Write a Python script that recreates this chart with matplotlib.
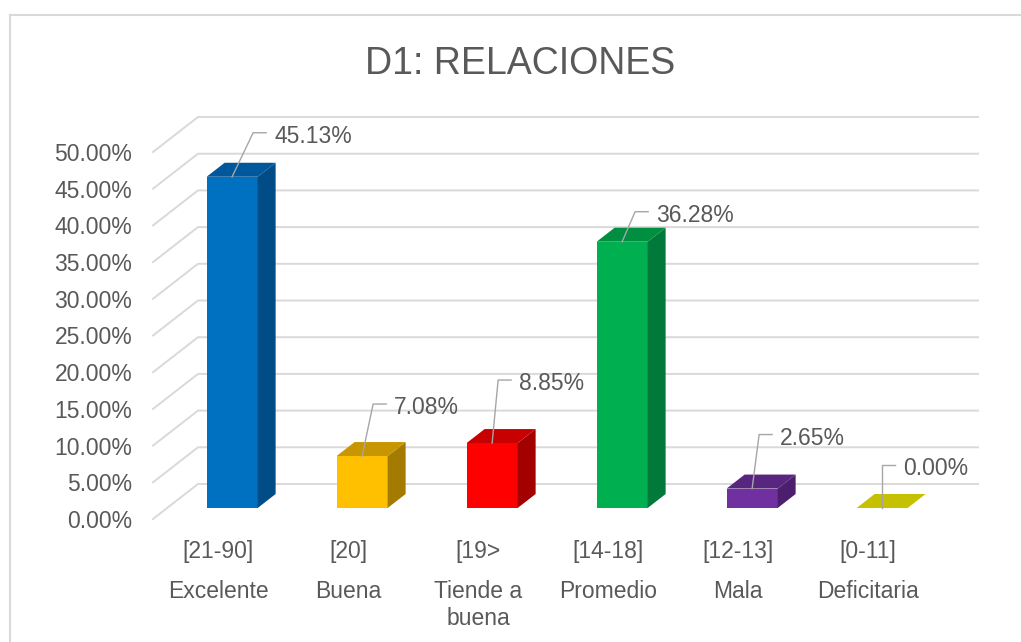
import matplotlib.pyplot as plt
import matplotlib.patches as patches
from matplotlib.lines import Line2D

plt.rcParams["font.family"] = ["Liberation Sans", "DejaVu Sans"]

# data
title = "D1: RELACIONES"
ranges = ["[21-90]", "[20]", "[19>", "[14-18]", "[12-13]", "[0-11]"]
levels = ["Excelente", "Buena", "Tiende a\nbuena", "Promedio", "Mala", "Deficitaria"]
percents = [45.13, 7.08, 8.85, 36.28, 2.65, 0.00]
y_ticks = [0, 5, 10, 15, 20, 25, 30, 35, 40, 45, 50]

# styles
front_colors = ["#0070C0", "#FFC000", "#FF0000", "#00B050", "#7030A0", "#C5C100"]
side_colors = ["#004C86", "#A37B00", "#A30000", "#00793A", "#4B1F6E", "#8A8700"]
top_colors = ["#00589C", "#C89600", "#C80000", "#008E41", "#58267F", "#C5C100"]
# leader elbow (right, up) in pixels from the bar's top edge
label_offsets = [(21, 44), (11, 52), (6, 63), (13, 30), (7, 54), (0, 43)]

text_color = "#595959"
grid_color = "#D9D9D9"

W, H = 1021, 642
fig = plt.figure(figsize=(W / 100, H / 100), dpi=100)
ax = fig.add_axes([153 / W, 123 / H, 780 / W, 367 / H])
ax.set_xlim(-0.5, 5.5)
ax.set_ylim(0, 50)
for s in ax.spines.values():
    s.set_visible(False)
ax.set_xticks([])
ax.set_yticks(y_ticks)
ax.set_yticklabels([f"{v:.2f}%" for v in y_ticks])
ax.tick_params(axis="y", length=0, pad=15, labelsize=16.5, labelcolor=text_color)

# fake 3D depth (in data units)
px_per_pct = 7.34
wall_dx = 45 / 130
wall_dy = 35 / px_per_pct
f0, f1 = 0.314, 0.714
bar_w = 51 / 130

# back wall gridlines
for v in y_ticks:
    ax.plot([-0.5, -0.5 + wall_dx, 5.5 + wall_dx], [v, v + wall_dy, v + wall_dy],
            color=grid_color, lw=1.4, clip_on=False, zorder=1)

# bars
for i, v in enumerate(percents):
    x0 = i + f0 * wall_dx - bar_w / 2
    x1 = x0 + bar_w
    y0 = f0 * wall_dy
    y1 = y0 + v
    ddx = (f1 - f0) * wall_dx
    ddy = (f1 - f0) * wall_dy
    if v > 0:
        front = patches.Rectangle((x0, y0), bar_w, v, facecolor=front_colors[i],
                                  edgecolor="none", clip_on=False, zorder=3)
        ax.add_patch(front)
        side = patches.Polygon([(x1, y0), (x1 + ddx, y0 + ddy), (x1 + ddx, y1 + ddy), (x1, y1)],
                               facecolor=side_colors[i], edgecolor="none", clip_on=False, zorder=3)
        ax.add_patch(side)
    top = patches.Polygon([(x0, y1), (x1, y1), (x1 + ddx, y1 + ddy), (x0 + ddx, y1 + ddy)],
                          facecolor=top_colors[i], edgecolor="none", clip_on=False, zorder=3)
    ax.add_patch(top)

# data labels with leader lines
for i, v in enumerate(percents):
    cx = i + f0 * wall_dx
    cy = f0 * wall_dy + v
    ax_, ay_ = ax.transData.transform((cx, cy))
    ox, oy = label_offsets[i]
    ex, ey = ax_ + ox, ay_ + oy
    fig.add_artist(Line2D([ax_, ex, ex + 13], [ay_, ey, ey], color="#A6A6A6", lw=1.0,
                          transform=None, zorder=4))
    ax.annotate(f"{v:.2f}%", xy=(cx, cy), xytext=(ox + 21, oy - 10),
                textcoords="offset pixels", ha="left", va="baseline",
                fontsize=16.5, color=text_color, zorder=5)

# category labels
for i in range(len(ranges)):
    ax.text(i, -39 / px_per_pct, ranges[i], ha="center", va="baseline",
            fontsize=16.5, color=text_color)
    for k, line in enumerate(levels[i].split("\n")):
        ax.text(i, -(79 + 27 * k) / px_per_pct, line, ha="center", va="baseline",
                fontsize=16.5, color=text_color)

# title
fig.text(520 / W, 1 - 74 / H, title, ha="center", va="baseline",
         fontsize=27, color=text_color)

# chart border
fig.add_artist(Line2D([9.7 / W, 9.7 / W], [0, 1 - 14.7 / H], color=grid_color, lw=1.5))
fig.add_artist(Line2D([9.7 / W, 1], [1 - 14.7 / H, 1 - 14.7 / H], color=grid_color, lw=1.5))

fig.savefig("out.png", dpi=100)
plt.close()
